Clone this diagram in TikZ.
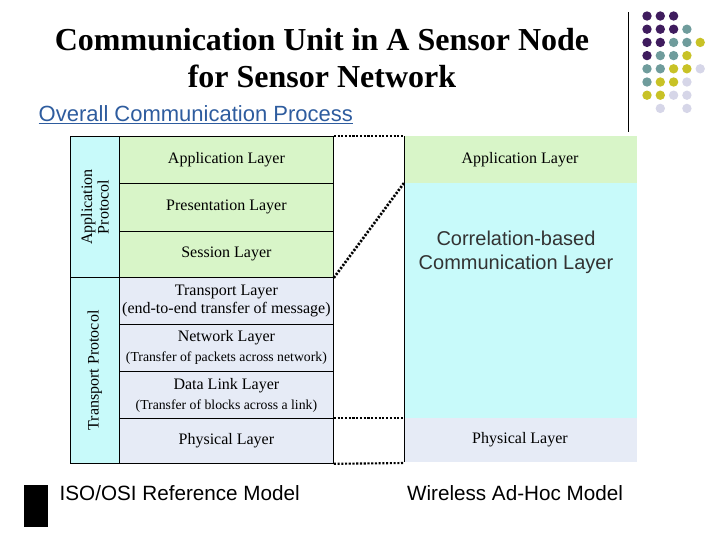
\documentclass[tikz,border=0pt]{standalone}
\usepackage{fontspec}
\setmainfont{Liberation Serif}
\newfontfamily\sans{Liberation Sans}
\begin{document}
\begin{tikzpicture}[x=0.75pt,y=-0.75pt,
  lay/.style={draw=black,line width=0.6pt,align=center},
  dot/.style={line width=1.6pt,dash pattern=on 1.6pt off 1.2pt}]
\useasboundingbox (0,0) rectangle (720,540);
\definecolor{lg}{HTML}{D8F5C8}\definecolor{lc}{HTML}{C8FAFA}\definecolor{lv}{HTML}{E6EBF6}
\definecolor{cP}{HTML}{3F1C5E}\definecolor{cT}{HTML}{6F9C9C}\definecolor{cY}{HTML}{C8C226}\definecolor{cL}{HTML}{D6D6E8}
\definecolor{tb}{HTML}{2E5C9E}
\node[font=\fontsize{24}{28}\selectfont\bfseries,align=center] (title) at (322,58) {Communication Unit in A Sensor Node\\for Sensor Network};
\node[anchor=west,font=\sans\fontsize{16.5}{18}\selectfont,text=tb] (ov) at (34,115) {\underline{Overall Communication Process}};
\draw[line width=0.6pt] (628,12) -- (628,132);
% dots
\foreach \r/\row in {0/{P,P,P},1/{P,P,P,T},2/{P,P,T,T,Y},3/{P,T,T,Y},4/{T,T,Y,Y,L},5/{T,Y,Y,L},6/{Y,Y,L,L}}{
  \foreach \c [count=\i from 0] in \row {
    \fill[c\c] ({647+13.3*\i},{16+13.2*\r}) circle (4.7);
  }}
\fill[cL] ({647+13.3},{16+13.2*7}) circle (4.7);
\fill[cL] ({647+13.3*3},{16+13.2*7}) circle (4.7);
% left column
\node[lay,fill=lc,minimum width=49*0.75pt,minimum height=141*0.75pt,anchor=north west] (ap) at (70,136) {};
\node[rotate=90,align=center,font=\fontsize{12}{12.5}\selectfont] at (ap.center) {Application\\Protocol};
\node[lay,fill=lc,minimum width=49*0.75pt,minimum height=186*0.75pt,anchor=north west] (tp) at (70,277) {};
\node[rotate=90,font=\fontsize{12}{13}\selectfont] at (tp.center) {Transport Protocol};
% layers
\foreach \n/\t/\h/\f/\txt in {l1/136/47/lg/{Application Layer},l2/183/48/lg/{Presentation Layer},l3/231/46/lg/{Session Layer},
  l4/277/47/lv/{Transport Layer\\(end-to-end transfer of message)},l5/324/47/lv/{Network Layer\\[2pt]{\fontsize{10.3}{11}\selectfont(Transfer of packets across network)}},
  l6/371/47/lv/{Data Link Layer\\[2pt]{\fontsize{10.3}{11}\selectfont(Transfer of blocks across a link)}},l7/418/45/lv/{Physical Layer}}{
  \node[lay,fill=\f,minimum width=214*0.75pt,minimum height=\h*0.75pt,anchor=north west,inner sep=0pt] (\n) at (119,\t) {};
  \node[align=center,font=\fontsize{12}{13}\selectfont] at (\n.center) {\txt};
}
% right model
\fill[lg] (404,136) rectangle (637,183);
\fill[lc] (404,183) rectangle (637,418);
\fill[lv] (404,418) rectangle (637,462);
\draw[line width=0.6pt] (404,136) -- (404,462);
\node[font=\fontsize{12}{13}\selectfont] (r1) at (520,160) {Application Layer};
\node[font=\sans\fontsize{15}{18}\selectfont,align=center,text=black!80] (r2) at (516,252) {Correlation-based\\Communication Layer};
\node[font=\fontsize{12}{13}\selectfont] (r3) at (520,440) {Physical Layer};
\coordinate (a1) at (404,136); \coordinate (a2) at (404,183); \coordinate (a3) at (404,418); \coordinate (a4) at (404,463);
\draw[dot] (l1.north east) -- (a1);
\draw[dot,line width=2pt] (l3.south east) -- (a2);
\draw[dot] (l7.north east) -- (a3);
\draw[dot] (l7.south east) -- (a4);
% bottom
\fill[black] (24,485) rectangle (48,527);
\node[anchor=west,font=\sans\fontsize{15.5}{17}\selectfont] (iso) at (55,493) {ISO/OSI Reference Model};
\node[font=\sans\fontsize{15.5}{17}\selectfont] (wah) at (515,493) {Wireless Ad-Hoc Model};
\end{tikzpicture}
\end{document}
